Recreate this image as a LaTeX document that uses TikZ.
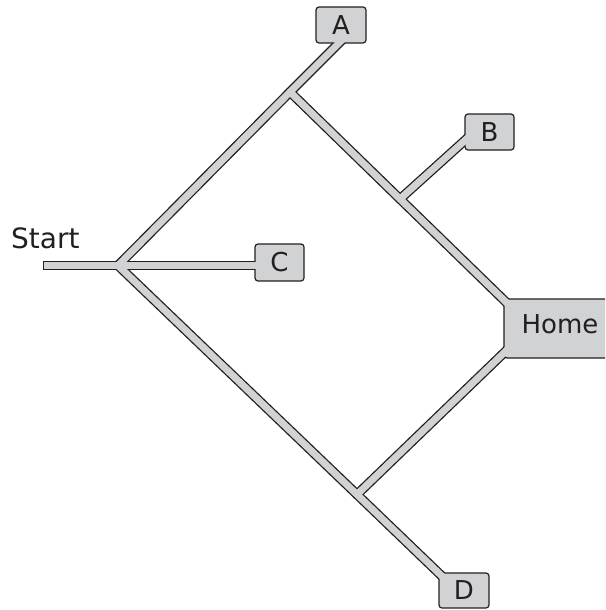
\documentclass[tikz,border=0pt]{standalone}
\usepackage{fontspec}
\setmainfont{DejaVu Sans}
\definecolor{roadgray}{RGB}{209,210,212}
\definecolor{ink}{RGB}{35,31,32}
\begin{document}
\begin{tikzpicture}[x=1pt,y=-1pt,
  roadedge/.style={draw=ink,line width=9.6pt,line cap=round,line join=round},
  roadfill/.style={draw=roadgray,line width=7pt,line cap=round,line join=round},
  sign/.style={draw=ink,fill=roadgray,line width=1.2pt,rounded corners=3pt,inner sep=0pt,
    font=\fontsize{26}{30}\selectfont,text=ink},
  lbl/.style={font=\fontsize{28}{32}\selectfont,text=ink,inner sep=0pt}]
\useasboundingbox (0,0) rectangle (605,610);
\clip (0,0) rectangle (605,610);
% junctions and road ends
\coordinate (s) at (43,265.5);
\coordinate (s2) at (44.3,265.5);
\coordinate (j0) at (118,265.5);
\coordinate (j1) at (290,92);
\coordinate (aend) at (344,38);
\coordinate (j2) at (400,199);
\coordinate (bend) at (472,134);
\coordinate (homeup) at (509,305);
\coordinate (cend) at (260,265.5);
\coordinate (j3) at (357,494.5);
\coordinate (dend) at (447,581);
\coordinate (homelow) at (509,348);
% road outlines
\draw[roadedge,line cap=butt] (s) -- (j0);
\draw[roadedge] (j0) -- (j1) -- (aend);
\draw[roadedge] (j1) -- (j2) -- (homeup);
\draw[roadedge] (j2) -- (bend);
\draw[roadedge] (j0) -- (cend);
\draw[roadedge] (j0) -- (j3) -- (dend);
\draw[roadedge] (j3) -- (homelow);
% signs
\node[sign,minimum width=50pt,minimum height=36pt] (A) at (341,25) {A};
\node[sign,minimum width=49pt,minimum height=36pt] (B) at (489.5,132) {B};
\node[sign,minimum width=49pt,minimum height=37pt] (C) at (279.5,262.5) {C};
\node[sign,minimum width=50pt,minimum height=35pt] (D) at (464,590.5) {D};
\node[sign,minimum width=112pt,minimum height=59pt,text depth=9pt] (home) at (560,328.5) {Home};
% road fills
\draw[roadfill,line cap=butt] (s2) -- (j0);
\draw[roadfill] (j0) -- (j1) -- (aend);
\draw[roadfill] (j1) -- (j2) -- (homeup);
\draw[roadfill] (j2) -- (bend);
\draw[roadfill] (j0) -- (cend);
\draw[roadfill] (j0) -- (j3) -- (dend);
\draw[roadfill] (j3) -- (homelow);
% start label
\node[lbl,anchor=base west] (start) at (11,248) {Start};
\end{tikzpicture}
\end{document}
